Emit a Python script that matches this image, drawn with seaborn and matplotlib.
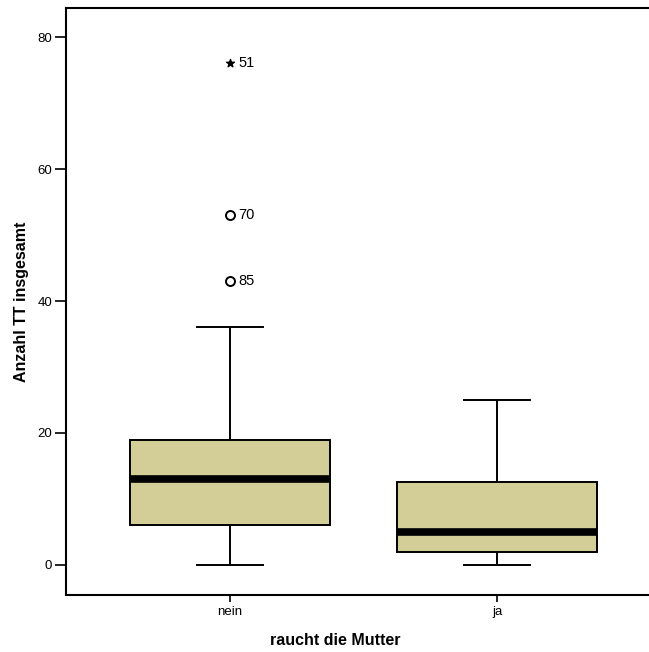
import numpy as np
import pandas as pd
import matplotlib
matplotlib.use("Agg")
import matplotlib.pyplot as plt
import seaborn as sns

# Category order on the x axis
groups = ["nein", "ja"]

# Number of TT per child, by whether the mother smokes
tt_nein = [0, 2, 4, 5, 6, 9, 11, 12, 13, 14, 16, 18, 19, 36, 43, 53, 76]
tt_ja = [0, 1, 2, 3, 5, 8, 12.5, 18, 25]

# Flagged cases in the "nein" group: case number, value, kind
flag_case = [85, 70, 51]
flag_value = [43, 53, 76]
flag_kind = ["out", "out", "extreme"]
flag_group = ["nein", "nein", "nein"]

df = pd.DataFrame({
    "rauch": ["nein"] * len(tt_nein) + ["ja"] * len(tt_ja),
    "tt": tt_nein + tt_ja,
})

plt.rcParams["font.family"] = ["Liberation Sans", "DejaVu Sans"]

W, H = 649, 652
fig = plt.figure(figsize=(W / 100, H / 100), dpi=100)
ax = fig.add_axes([66 / W, 57 / H, 595 / W, 587 / H])

sns.boxplot(
    data=df, x="rauch", y="tt", order=groups, ax=ax,
    color="#D3CE97", saturation=1, width=0.75, whis=1.5,
    linecolor="black", linewidth=1.4, showfliers=False,
    medianprops=dict(color="black", linewidth=5.5, solid_capstyle="butt"),
)

# narrower whisker caps
for cap in ax.containers[0].caps:
    xd = np.asarray(cap.get_xdata(), dtype=float)
    c = xd.mean()
    cap.set_xdata([c - 0.125, c + 0.125])

# flagged cases with their case numbers
for case, val, kind, grp in zip(flag_case, flag_value, flag_kind, flag_group):
    xpos = groups.index(grp)
    if kind == "extreme":
        ax.scatter([xpos], [val], marker="*", s=34, color="black", zorder=5)
    else:
        ax.scatter([xpos], [val], marker="o", s=42, facecolors="white",
                   edgecolors="black", linewidths=1.4, zorder=5)
    ax.text(xpos + 0.03, val, str(case), va="center", ha="left", fontsize=10.5)

ax.set_xlim(-0.614, 1.614)
ax.set_ylim(-4.55, 84.4)
ax.set_yticks([0, 20, 40, 60, 80])
ax.tick_params(axis="y", length=8, width=1.2, labelsize=9.5, pad=2)
ax.tick_params(axis="x", length=5, width=1.2, labelsize=9.5, pad=3)

for side in ["left", "bottom", "top"]:
    ax.spines[side].set_visible(True)
    ax.spines[side].set_linewidth(1.5)
    ax.spines[side].set_color("black")
ax.spines["right"].set_visible(False)

ax.set_xlabel("raucht die Mutter", fontsize=11.5, fontweight="bold")
ax.set_ylabel("Anzahl TT insgesamt", fontsize=11.5, fontweight="bold")
ax.xaxis.set_label_coords((335 - 66) / 595, -0.064)
ax.yaxis.set_label_coords(-0.063, 0.5)

fig.savefig("out.png", dpi=100)
